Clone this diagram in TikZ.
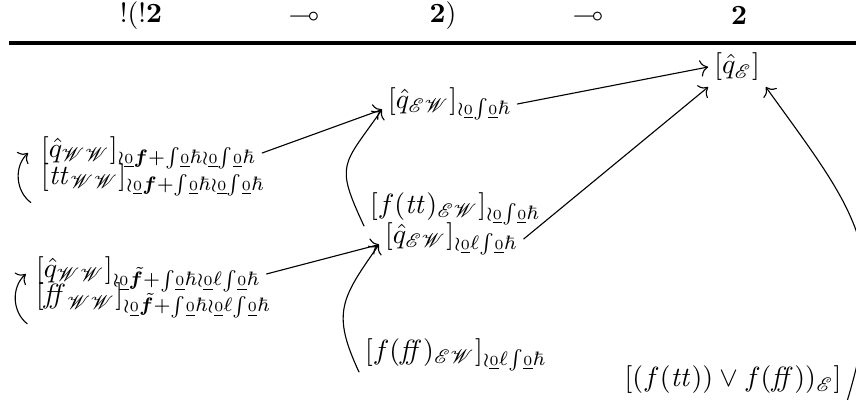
\documentclass[tikz,border=0pt]{standalone}
\usepackage{amsmath,amssymb,bm}
\usepackage{mathrsfs}
\usetikzlibrary{arrows.meta}

\newcommand{\uz}{\underline{\scriptscriptstyle 0}}
\newcommand{\sW}{\mathscr{W}}
\newcommand{\sE}{\mathscr{E}}
\newcommand{\sint}{\mathord{\int}}

\begin{document}
\begin{tikzpicture}[x=0.36pt,y=-0.36pt,>={To[length=1mm]},line cap=round,
  every node/.style={inner sep=2pt},
  lft/.style={anchor=west}]
\useasboundingbox (0,0) rectangle (856,400);
% header row
\node (h1) at (141,16) {$\mathbf{!(!2}$};
\node (h2) at (304,16) {$\multimap$};
\node (h3) at (443,16) {$\mathbf{2)}$};
\node (h4) at (588,16) {$\multimap$};
\node (h5) at (739,16) {$\mathbf{2}$};
\draw[line width=1.1pt,line cap=butt] (9,43) -- (856,43);
% left column
\node[lft] (qWWa) at (35,153) {$[\hat{q}_{\sW\sW}]_{\wr\uz\bm{f}+\sint\uz\hbar\wr\uz\sint\uz\hbar}$};
\node[lft] (ttWW) at (35,180) {$[\mathit{tt}_{\sW\sW}]_{\wr\uz\bm{f}+\sint\uz\hbar\wr\uz\sint\uz\hbar}$};
\node[lft] (qWWb) at (30,274) {$[\hat{q}_{\sW\sW}]_{\wr\uz\tilde{\bm{f}}+\sint\uz\hbar\wr\uz\ell\sint\uz\hbar}$};
\node[lft] (ffWW) at (30,300) {$[\mathit{ff}_{\sW\sW}]_{\wr\uz\tilde{\bm{f}}+\sint\uz\hbar\wr\uz\ell\sint\uz\hbar}$};
% middle column
\node[lft] (qEWa) at (382,104) {$[\hat{q}_{\sE\sW}]_{\wr\uz\sint\uz\hbar}$};
\node[lft] (ftt) at (364,209) {$[f(\mathit{tt})_{\sE\sW}]_{\wr\uz\sint\uz\hbar}$};
\node[lft] (qEWb) at (379,239) {$[\hat{q}_{\sE\sW}]_{\wr\uz\ell\sint\uz\hbar}$};
\node[lft] (fff) at (359,355) {$[f(\mathit{ff})_{\sE\sW}]_{\wr\uz\ell\sint\uz\hbar}$};
% right column
\node (qE) at (737,67) {$[\hat{q}_{\sE}]$};
\node (fin) at (733,380) {$[(f(\mathit{tt}))\vee f(\mathit{ff}))_{\sE}]$};
% arrows
\draw[->] ([xshift=-1.5pt]ttWW.south west) to[bend left=50] ([xshift=-2.5pt]qWWa.west);
\draw[->] ([xshift=-1pt]ffWW.south west) to[bend left=50] ([xshift=-1.5pt]qWWb.west);
\draw[->] (qWWa.east) -- ([yshift=-2pt]qEWa.west);
\draw[->] (qWWb.east) -- ([yshift=-2pt]qEWb.west);
\draw[->] (qEWa.east) -- (qE.west);
\draw[->] (qEWb.east) -- (qE.south west);
\draw[->] ([yshift=2pt]ftt.south west) to[out=115,in=-125,looseness=1.5] ([yshift=-2pt]qEWa.west);
\draw[->] ([yshift=2pt]fff.south west) to[out=115,in=-125,looseness=1.3] ([yshift=-2pt]qEWb.west);
\draw[->] (fin.south east) .. controls +(45,-150) and +(90,125) .. (qE.south east);
\end{tikzpicture}
\end{document}
